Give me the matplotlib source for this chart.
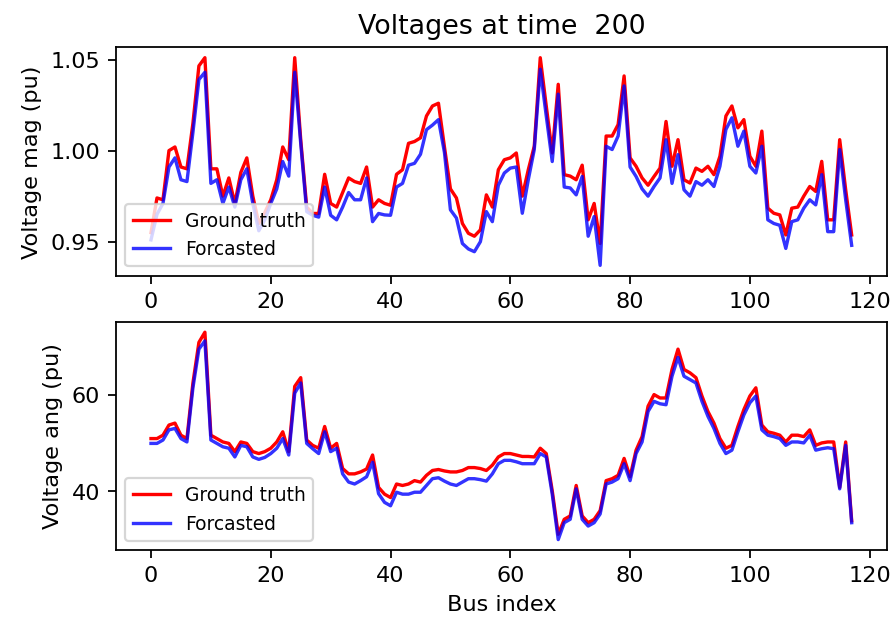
import numpy as np
import matplotlib
matplotlib.use('Agg')
from matplotlib import pyplot as plt
from matplotlib.ticker import MultipleLocator

time_step = 200

# Voltage magnitude (pu) per bus
vm_true = [0.955, 0.974, 0.973, 1.000, 1.002, 0.991, 0.990, 1.015, 1.0465, 1.051,
           0.990, 0.990, 0.975, 0.985, 0.971, 0.988, 0.996, 0.975, 0.960, 0.966,
           0.973, 0.984, 1.002, 0.995, 1.051, 1.006, 0.969, 0.9655, 0.9655, 0.987,
           0.971, 0.969, 0.977, 0.985, 0.983, 0.982, 0.991, 0.969, 0.973, 0.971,
           0.970, 0.987, 0.9895, 1.004, 1.005, 1.007, 1.019, 1.0245, 1.026, 1.002,
           0.979, 0.974, 0.960, 0.9546, 0.953, 0.9565, 0.9757, 0.969, 0.9895, 0.995,
           0.996, 0.9987, 0.975, 0.9895, 1.0024, 1.051, 1.0245, 0.9987, 1.0364, 0.9868,
           0.986, 0.984, 0.992, 0.962, 0.971, 0.949, 1.008, 1.008, 1.0143, 1.041,
           0.996, 0.9914, 0.985, 0.981, 0.9858, 0.9904, 1.016, 0.9914, 1.006, 0.984,
           0.9822, 0.9904, 0.9886, 0.9914, 0.9868, 0.9969, 1.019, 1.0245, 1.0125, 1.017,
           0.9969, 0.9914, 1.0107, 0.9684, 0.9656, 0.9647, 0.9537, 0.9684, 0.969, 0.975,
           0.9803, 0.9776, 0.9941, 0.962, 0.962, 1.006, 0.9785, 0.9537]
vm_pred = [0.951, 0.965, 0.971, 0.991, 0.996, 0.984, 0.983, 1.010, 1.039, 1.043,
           0.982, 0.984, 0.971, 0.980, 0.969, 0.984, 0.990, 0.971, 0.956, 0.962,
           0.971, 0.979, 0.994, 0.986, 1.043, 1.004, 0.9665, 0.9645, 0.9635, 0.980,
           0.9645, 0.962, 0.969, 0.977, 0.973, 0.973, 0.985, 0.961, 0.9655, 0.9647,
           0.9645, 0.980, 0.982, 0.992, 0.993, 0.998, 1.0115, 1.014, 1.017, 0.999,
           0.9675, 0.963, 0.949, 0.946, 0.9445, 0.950, 0.9665, 0.961, 0.981, 0.9877,
           0.9904, 0.991, 0.9656, 0.984, 1.0006, 1.0447, 1.019, 0.994, 1.031, 0.980,
           0.9795, 0.9757, 0.9858, 0.953, 0.9638, 0.937, 1.0024, 1.0006, 1.008, 1.0355,
           0.991, 0.9858, 0.979, 0.975, 0.9803, 0.985, 1.006, 0.982, 0.9978, 0.9785,
           0.975, 0.983, 0.981, 0.984, 0.9803, 0.9914, 1.0116, 1.018, 1.0024, 1.0107,
           0.9914, 0.9877, 1.0024, 0.962, 0.960, 0.959, 0.9463, 0.961, 0.962, 0.9684,
           0.973, 0.9702, 0.9868, 0.9555, 0.9555, 1.0006, 0.973, 0.948]

# Voltage angle per bus
va_true = [50.9, 50.9, 51.6, 53.7, 54.1, 51.6, 50.9, 62.4, 70.8, 72.9,
           51.6, 50.9, 50.2, 49.9, 48.2, 50.2, 49.9, 48.2, 47.8, 48.2,
           48.9, 50.2, 52.3, 48.2, 61.7, 63.5, 50.6, 49.5, 48.9, 53.4,
           48.9, 49.9, 44.7, 43.6, 43.6, 44.0, 44.6, 47.5, 40.8, 39.4,
           38.7, 41.5, 41.2, 41.5, 42.2, 41.9, 43.3, 44.3, 44.5, 44.2,
           44.0, 44.0, 44.3, 44.9, 44.9, 44.7, 44.3, 45.4, 47.1, 47.8,
           47.8, 47.5, 47.2, 47.2, 47.1, 48.9, 47.8, 40.1, 31.1, 34.2,
           34.9, 41.2, 34.9, 33.5, 34.2, 36.0, 42.2, 42.6, 43.3, 46.8,
           43.0, 48.5, 51.3, 57.6, 60.0, 59.3, 59.3, 65.2, 69.4, 65.2,
           64.5, 63.5, 59.7, 56.5, 54.1, 50.9, 48.9, 49.5, 53.4, 56.9,
           59.7, 61.4, 53.7, 52.3, 52.0, 51.6, 50.2, 51.6, 51.6, 51.3,
           52.7, 49.5, 50.0, 50.2, 50.2, 40.8, 50.2, 33.9]
va_pred = [49.9, 49.9, 50.6, 52.7, 53.0, 50.9, 50.2, 61.4, 69.4, 71.1,
           50.6, 49.9, 49.2, 48.9, 47.1, 49.5, 49.2, 47.1, 46.6, 47.0,
           47.8, 48.9, 50.9, 47.5, 60.3, 62.4, 49.9, 48.8, 47.8, 52.3,
           48.2, 48.9, 43.6, 41.9, 41.5, 42.2, 43.0, 46.0, 39.5, 37.7,
           37.0, 39.8, 39.4, 39.4, 39.8, 39.8, 41.2, 42.6, 42.8, 42.1,
           41.5, 41.2, 41.9, 42.6, 42.6, 42.4, 42.1, 43.6, 45.7, 46.4,
           46.4, 46.1, 45.7, 45.7, 45.7, 47.8, 47.1, 39.4, 30.0, 33.5,
           34.2, 40.5, 34.2, 32.8, 33.5, 35.3, 41.5, 41.9, 42.6, 45.7,
           42.2, 47.8, 50.2, 56.5, 58.6, 58.1, 57.9, 63.8, 67.7, 63.8,
           63.1, 62.4, 58.6, 55.5, 53.0, 49.9, 47.8, 48.5, 52.3, 55.8,
           58.3, 59.7, 52.7, 51.6, 51.3, 50.9, 49.5, 50.2, 50.2, 50.0,
           51.6, 48.5, 48.8, 49.0, 48.8, 40.5, 49.5, 33.5]

bus = np.arange(len(vm_true))

fig = plt.figure(figsize=(890 / 161, 621.4 / 161), dpi=161)
ax1 = fig.add_axes([0.1303, 0.5556, 0.866, 0.3676])
ax2 = fig.add_axes([0.1303, 0.1143, 0.866, 0.3671])

ax1.plot(bus, vm_true, 'r', label='Ground truth')
ax1.plot(bus, vm_pred, 'b', alpha=0.8, label='Forcasted')
ax1.set_ylabel('Voltage mag (pu)')
ax1.set_title('Voltages at time  %d' % time_step)
ax1.legend(loc='lower left', fontsize='small')

ax2.plot(bus, va_true, 'r', label='Ground truth')
ax2.plot(bus, va_pred, 'b', alpha=0.8, label='Forcasted')
ax2.yaxis.set_major_locator(MultipleLocator(20))
ax2.set_ylabel('Voltage ang (pu)')
ax2.set_xlabel('Bus index')
ax2.legend(loc='lower left', fontsize='small')

fig.savefig('out.png', dpi=161)
